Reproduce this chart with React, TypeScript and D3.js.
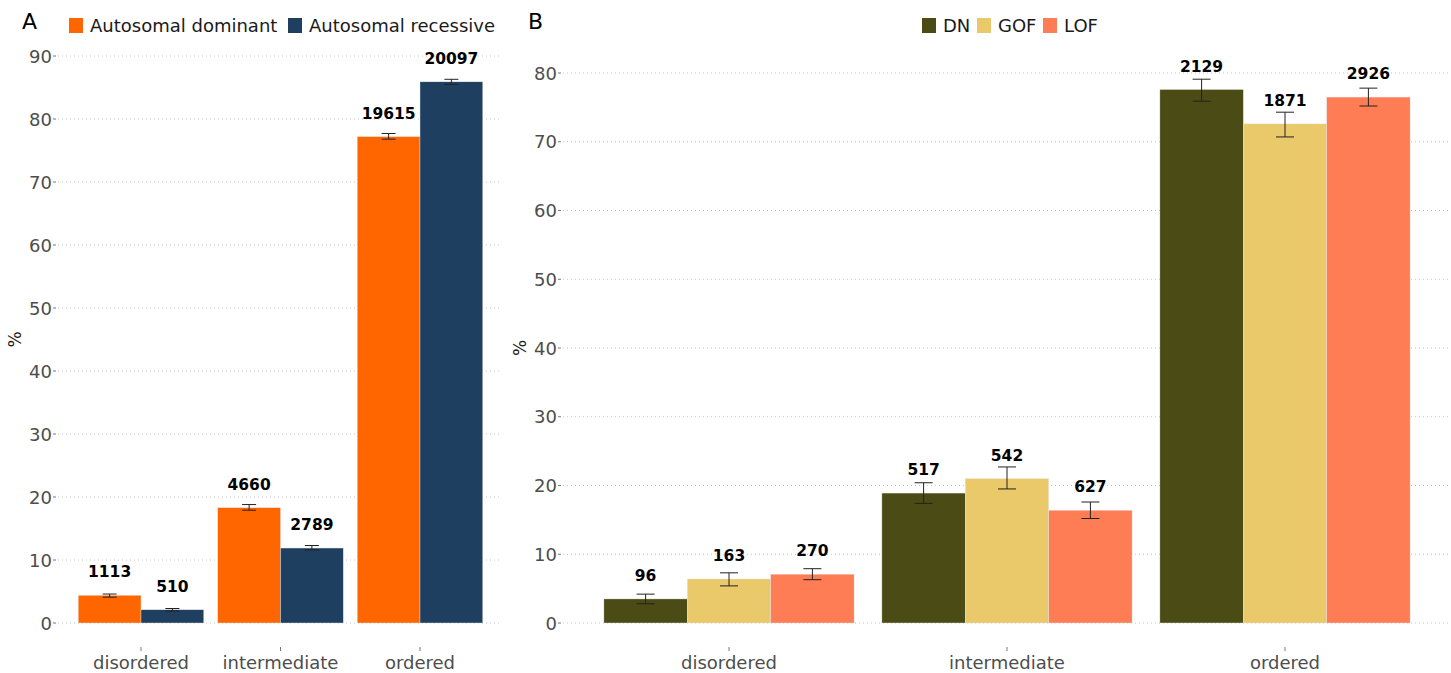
import React from "react";
import * as d3 from "d3";

const catsA = ["disordered", "intermediate", "ordered"];
const seriesA = ["Autosomal dominant", "Autosomal recessive"];
const colorsA = ["#FF6600", "#1F3F61"];
const valuesA = [
  [4.4, 18.3, 77.2],
  [2.1, 11.9, 85.9],
];
const lowA = [
  [4.1, 17.9, 76.8],
  [1.9, 11.6, 85.5],
];
const highA = [
  [4.6, 18.8, 77.7],
  [2.3, 12.3, 86.3],
];
const countsA = [
  [1113, 4660, 19615],
  [510, 2789, 20097],
];
const ticksA = [0, 10, 20, 30, 40, 50, 60, 70, 80, 90];

const catsB = ["disordered", "intermediate", "ordered"];
const seriesB = ["DN", "GOF", "LOF"];
const colorsB = ["#4B4B16", "#E9C96A", "#FF7D55"];
const valuesB = [
  [3.5, 18.9, 77.6],
  [6.4, 21.0, 72.6],
  [7.1, 16.4, 76.5],
];
const lowB = [
  [2.8, 17.4, 75.9],
  [5.4, 19.5, 70.7],
  [6.3, 15.2, 75.2],
];
const highB = [
  [4.2, 20.4, 79.1],
  [7.3, 22.7, 74.3],
  [7.9, 17.6, 77.8],
];
const countsB = [
  [96, 517, 2129],
  [163, 542, 1871],
  [270, 627, 2926],
];
const ticksB = [0, 10, 20, 30, 40, 50, 60, 70, 80];

const FONT = "'DejaVu Sans', sans-serif";

type PanelProps = {
  letter: string;
  letterX: number;
  cats: string[];
  series: string[];
  colors: string[];
  values: number[][];
  low: number[][];
  high: number[][];
  counts: number[][];
  ticks: number[];
  yMax: number;
  y0: number;
  yTop: number;
  xStart: number;
  xEnd: number;
  gridL: number;
  gridR: number;
  legend: number[];
  pctX: number;
  errW: number;
};

function Panel(p: PanelProps) {
  const step = (p.xEnd - p.xStart) / p.cats.length;
  const xc = d3.scaleBand<string>().domain(p.cats).range([p.xStart, p.xEnd]);
  const groupW = step * 0.9;
  const xs = d3.scaleBand<string>().domain(p.series).range([0, groupW]);
  const y = d3.scaleLinear().domain([0, p.yMax]).range([p.y0, p.yTop]);
  return (
    <g fontFamily={FONT}>
      <text x={p.letterX} y={29} fontSize={22} fill="#000">
        {p.letter}
      </text>
      {p.legend.map((lx, i) => (
        <g key={i}>
          <rect x={lx} y={18} width={14} height={15} fill={p.colors[i]} />
          <text x={lx + 21} y={32} fontSize={18} fill="#1a1a1a">
            {p.series[i]}
          </text>
        </g>
      ))}
      {p.ticks.map((t) => (
        <g key={t}>
          <line x1={p.gridL} x2={p.gridR} y1={y(t)} y2={y(t)} stroke="#c4c4c4" strokeWidth={1} strokeDasharray="1,3" />
          <line x1={p.gridL - 5} x2={p.gridL - 2} y1={y(t)} y2={y(t)} stroke="#777" strokeWidth={1} />
          <text x={p.gridL - 6} y={y(t) + 6.5} fontSize={18} fill="#4d4d4d" textAnchor="end">
            {t}
          </text>
        </g>
      ))}
      <text
        transform={`translate(${p.pctX},${(p.y0 + p.yTop) / 2}) rotate(-90)`}
        fontSize={17}
        fill="#1a1a1a"
        textAnchor="middle"
      >
        %
      </text>
      {p.cats.map((c) => {
        const cx = (xc(c) as number) + step / 2;
        return (
          <g key={c}>
            <line x1={cx} x2={cx} y1={p.y0 + 24} y2={p.y0 + 28} stroke="#777" />
            <text x={cx} y={p.y0 + 46} fontSize={18} fill="#4d4d4d" textAnchor="middle">
              {c}
            </text>
          </g>
        );
      })}
      {p.series.map((s, si) =>
        p.cats.map((c, ci) => {
          const cx = (xc(c) as number) + step / 2;
          const bx = cx - groupW / 2 + (xs(s) as number);
          const bw = xs.bandwidth();
          const v = p.values[si][ci];
          const mid = bx + bw / 2;
          const yh = y(p.high[si][ci]);
          const yl = y(p.low[si][ci]);
          return (
            <g key={s + c}>
              <rect x={bx} y={y(v)} width={bw} height={p.y0 - y(v)} fill={p.colors[si]} stroke="#e6e6e6" strokeWidth={0.4} />
              <line x1={mid} x2={mid} y1={yh} y2={yl} stroke="#222" strokeWidth={1} />
              <line x1={mid - p.errW} x2={mid + p.errW} y1={yh} y2={yh} stroke="#222" strokeWidth={1} />
              <line x1={mid - p.errW} x2={mid + p.errW} y1={yl} y2={yl} stroke="#222" strokeWidth={1} />
              <text x={mid} y={y(v) - 18} fontSize={15.5} fontWeight="bold" fill="#000" textAnchor="middle">
                {p.counts[si][ci]}
              </text>
            </g>
          );
        })
      )}
    </g>
  );
}

export default function App() {
  return (
    <svg width={1451} height={673} style={{ display: "block", position: "absolute", left: 0, top: 0, background: "#fff" }}>
      <Panel
        letter="A"
        letterX={22}
        cats={catsA}
        series={seriesA}
        colors={colorsA}
        values={valuesA}
        low={lowA}
        high={highA}
        counts={countsA}
        ticks={ticksA}
        yMax={90}
        y0={623}
        yTop={56}
        xStart={71.25}
        xEnd={489.75}
        gridL={58}
        gridR={500}
        legend={[69, 288]}
        pctX={21}
        errW={7}
      />
      <Panel
        letter="B"
        letterX={528}
        cats={catsB}
        series={seriesB}
        colors={colorsB}
        values={valuesB}
        low={lowB}
        high={highB}
        counts={countsB}
        ticks={ticksB}
        yMax={80}
        y0={623}
        yTop={73}
        xStart={590}
        xEnd={1424}
        gridL={563}
        gridR={1451}
        legend={[922, 977, 1043]}
        pctX={526}
        errW={9}
      />
    </svg>
  );
}
